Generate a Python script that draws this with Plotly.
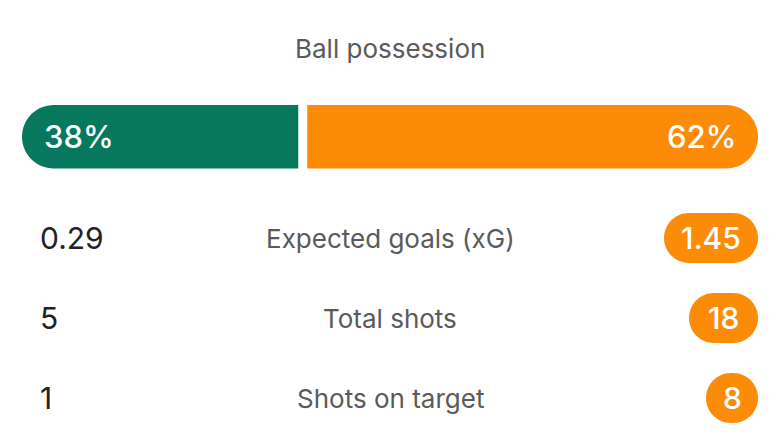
import plotly.graph_objects as go

# ---- data ----
possession_label = "Ball possession"
possession = [38, 62]  # home, away (%)
stat_labels = ["Expected goals (xG)", "Total shots", "Shots on target"]
home_values = ["0.29", "5", "1"]
away_values = ["1.45", "18", "8"]

GREEN = "#05785d"
ORANGE = "#fc8c08"
W, H = 780, 438
K = 0.5523

fig = go.Figure()
fig.add_trace(go.Scatter(x=[0, W], y=[0, H], mode="markers", marker=dict(opacity=0), hoverinfo="skip", showlegend=False))

shapes = []
annotations = []

def pill_path(x0, x1, y0, y1, round_left=True, round_right=True):
    r = (y1 - y0) / 2
    cy = (y0 + y1) / 2
    k = K * r
    p = []
    p.append(f"M {x0 + r if round_left else x0},{y0}")
    if round_right:
        xc = x1 - r
        p.append(f"L {xc},{y0}")
        p.append(f"C {xc + k},{y0} {x1},{cy - k} {x1},{cy}")
        p.append(f"C {x1},{cy + k} {xc + k},{y1} {xc},{y1}")
    else:
        p.append(f"L {x1},{y0}")
        p.append(f"L {x1},{y1}")
    if round_left:
        xc = x0 + r
        p.append(f"L {xc},{y1}")
        p.append(f"C {xc - k},{y1} {x0},{cy + k} {x0},{cy}")
        p.append(f"C {x0},{cy - k} {xc - k},{y0} {xc},{y0}")
    else:
        p.append(f"L {x0},{y1}")
    p.append("Z")
    return " ".join(p)

NUM_FS = 30
PCT_FS = 31
LAB_FS = 26

# possession bar
bx0, bx1, gap = 22, 758, 9
by0, by1 = 105, 168.5
usable = bx1 - bx0 - gap
split = bx0 + usable * possession[0] / sum(possession)
shapes.append(dict(type="path", xref="x", yref="y", path=pill_path(bx0, split, by0, by1, True, False),
                   fillcolor=GREEN, line=dict(width=0)))
shapes.append(dict(type="path", xref="x", yref="y", path=pill_path(split + gap, bx1, by0, by1, False, True),
                   fillcolor=ORANGE, line=dict(width=0)))
bcy = (by0 + by1) / 2
annotations.append(dict(x=42, y=bcy, text=f"{possession[0]}%", xanchor="left", yanchor="middle", showarrow=False,
                        font=dict(family="Inter", size=PCT_FS, color="white", weight=500)))
annotations.append(dict(x=738, y=bcy, text=f"{possession[1]}%", xanchor="right", yanchor="middle", showarrow=False,
                        font=dict(family="Inter", size=PCT_FS, color="white", weight=500)))
annotations.append(dict(x=390, y=48, text=possession_label, xanchor="center", yanchor="middle", showarrow=False,
                        font=dict(family="Inter", size=LAB_FS, color="#5a5a5a")))

row_y = [238, 318, 398]
char_w = {".": 8}
for lab, hv, av, cy in zip(stat_labels, home_values, away_values, row_y):
    annotations.append(dict(x=390, y=cy, text=lab, xanchor="center", yanchor="middle", showarrow=False,
                            font=dict(family="Inter", size=LAB_FS, color="#5a5a5a")))
    h, a = float(hv), float(av)
    # home value
    if h > a:
        hw = sum(char_w.get(c, 17) for c in hv) + 35
        shapes.append(dict(type="path", xref="x", yref="y", path=pill_path(22, 22 + hw, cy - 25, cy + 25),
                           fillcolor=GREEN, line=dict(width=0)))
        annotations.append(dict(x=22 + hw / 2, y=cy, text=hv, xanchor="center", yanchor="middle", showarrow=False,
                                font=dict(family="Inter", size=NUM_FS, color="white", weight=500)))
    else:
        annotations.append(dict(x=38, y=cy, text=hv, xanchor="left", yanchor="middle", showarrow=False,
                                font=dict(family="Inter", size=NUM_FS, color="#222222")))
    if a > h:
        aw = sum(char_w.get(c, 17) for c in av) + 35
        shapes.append(dict(type="path", xref="x", yref="y", path=pill_path(758 - aw, 758, cy - 25, cy + 25),
                           fillcolor=ORANGE, line=dict(width=0)))
        annotations.append(dict(x=758 - aw / 2, y=cy, text=av, xanchor="center", yanchor="middle", showarrow=False,
                                font=dict(family="Inter", size=NUM_FS, color="white", weight=500)))
    else:
        annotations.append(dict(x=742, y=cy, text=av, xanchor="right", yanchor="middle", showarrow=False,
                                font=dict(family="Inter", size=NUM_FS, color="#222222")))

fig.update_layout(
    width=W, height=H, margin=dict(l=0, r=0, t=0, b=0),
    paper_bgcolor="white", plot_bgcolor="white",
    xaxis=dict(range=[0, W], visible=False, fixedrange=True),
    yaxis=dict(range=[H, 0], visible=False, fixedrange=True),
    shapes=shapes, annotations=annotations, showlegend=False,
)
fig.write_html("out.html", config={"displayModeBar": False})
